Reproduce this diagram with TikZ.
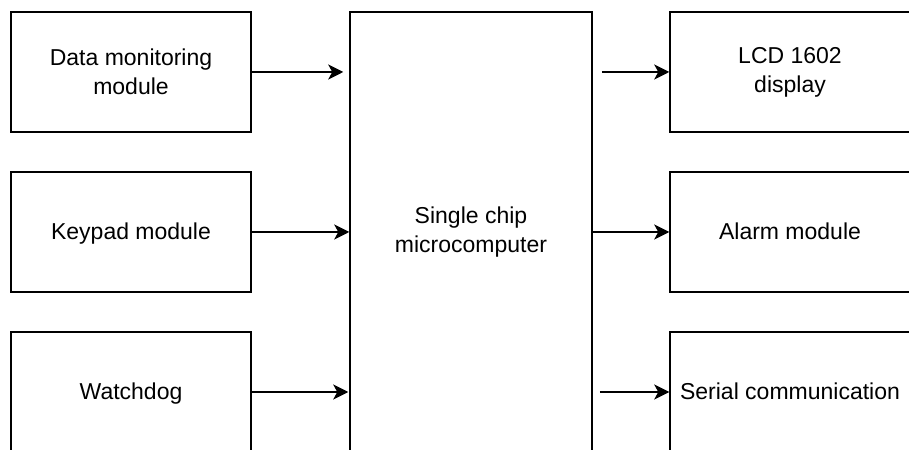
\documentclass[tikz,border=0pt]{standalone}
\usepackage{fontspec}
\setmainfont{Liberation Sans}
\usetikzlibrary{arrows.meta}
\begin{document}
\begin{tikzpicture}[x=1bp,y=-1bp,
  blk/.style={draw=black, line width=1.5bp, fill=white, minimum width=240bp, minimum height=120bp, inner sep=0pt, align=center, font=\fontsize{23bp}{29bp}\selectfont},
  one/.style={text depth=0pt, text height=15bp},
  conn/.style={line width=1.5bp, -{Stealth[length=15bp,width=15bp,inset=4bp]}}]
\useasboundingbox (0,0) rectangle (909,450);
\clip (0,0) rectangle (909,450);
\node[blk] (dm) at (131,72) {Data monitoring\\module};
\node[blk, one] (kp) at (131,232) {Keypad module};
\node[blk, one] (wd) at (131,392) {Watchdog};
\node[blk, minimum width=242bp, minimum height=440bp] (mcu) at (471,232) {Single chip\\microcomputer};
\node[blk] (lcd) at (790,72) {LCD 1602\\display};
\node[blk, one] (al) at (790,232) {Alarm module};
\node[blk, one] (sc) at (790,392) {Serial communication};
\draw[conn] (dm.east) -- ([xshift=-6bp]mcu.west |- dm.east);
\draw[conn] (kp.east) -- (mcu.west |- kp.east);
\draw[conn] (wd.east) -- ([xshift=-1bp]mcu.west |- wd.east);
\draw[conn] ([xshift=9bp]mcu.east |- lcd.west) -- (lcd.west);
\draw[conn] (mcu.east |- al.west) -- (al.west);
\draw[conn] ([xshift=7bp]mcu.east |- sc.west) -- (sc.west);
\end{tikzpicture}
\end{document}
